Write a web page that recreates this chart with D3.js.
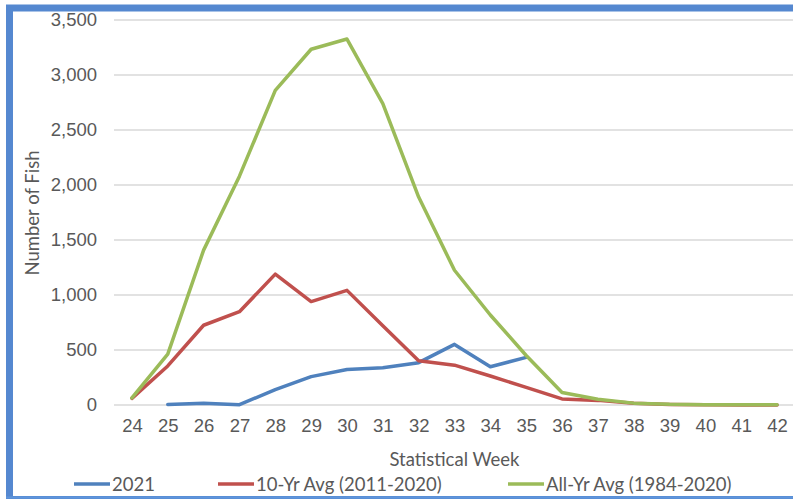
<!DOCTYPE html>
<html>
<head>
<meta charset="utf-8">
<script src="https://cdn.jsdelivr.net/npm/d3@7"></script>
<style>
  body { margin: 0; background: #fff; }
  svg { display: block; font-family: Lato, 'Noto Sans', sans-serif; }
</style>
</head>
<body>
<svg width="793" height="499"></svg>
<script>
const weeks = [24, 25, 26, 27, 28, 29, 30, 31, 32, 33, 34, 35, 36, 37, 38, 39, 40, 41, 42]
const yr2021 = [null, 5, 15, 3, 140, 258, 322, 338, 385, 551, 348, 433, null, null, null, null, null, null, null]
const tenYrAvg = [60, 355, 725, 848, 1190, 940, 1042, 720, 403, 362, 264, 160, 55, 42, 15, 5, 2, 1, 1]
const allYrAvg = [64, 462, 1408, 2080, 2860, 3234, 3327, 2740, 1890, 1225, 818, 450, 113, 52, 17, 6, 3, 2, 2]
const yTicks = [0, 500, 1000, 1500, 2000, 2500, 3000, 3500]

const series = [
  { name: '2021', values: yr2021, color: '#4f81bd' },
  { name: '10-Yr Avg (2011-2020)', values: tenYrAvg, color: '#c0504d' },
  { name: 'All-Yr Avg (1984-2020)', values: allYrAvg, color: '#9bbb59' }
]

const margin = { top: 20, right: -2, bottom: 94, left: 114 }
const width = 793
const height = 499
const fontSize = '18.5px'

const svg = d3.select('svg')

// frame
svg.append('rect')
  .attr('x', 9.5).attr('y', 8)
  .attr('width', 820).attr('height', 489)
  .attr('fill', 'none')
  .attr('stroke', '#5588d0')
  .attr('stroke-width', 7)
svg.append('line')
  .attr('x1', 6).attr('x2', 800)
  .attr('y1', 497.5).attr('y2', 497.5)
  .attr('stroke', '#5f95dc')
  .attr('stroke-width', 2)
svg.append('rect')
  .attr('x', 13).attr('y', 12)
  .attr('width', 800).attr('height', 484)
  .attr('fill', '#fff')

const xScale = d3.scalePoint()
  .domain(weeks)
  .range([margin.left, width - margin.right])
  .padding(0.5)

const yScale = d3.scaleLinear()
  .domain([0, 3500])
  .range([height - margin.bottom, margin.top])

// gridlines
svg.append('g')
  .selectAll('line')
  .data(yTicks)
  .enter().append('line')
  .attr('x1', margin.left)
  .attr('x2', width - margin.right)
  .attr('y1', d => yScale(d))
  .attr('y2', d => yScale(d))
  .attr('stroke', '#d9d9d9')
  .attr('stroke-width', 1.5)

// y axis labels
const yAxis = d3.axisLeft(yScale)
  .tickValues(yTicks)
  .tickFormat(d3.format(','))
  .tickSize(0)
  .tickPadding(17)

svg.append('g')
  .attr('transform', `translate(${margin.left},0)`)
  .call(yAxis)
  .call(g => g.select('.domain').remove())
  .selectAll('text')
  .attr('fill', '#595959')
  .style('font-size', fontSize)

// x axis labels
const xAxis = d3.axisBottom(xScale)
  .tickSize(0)
  .tickPadding(14)

svg.append('g')
  .attr('transform', `translate(0,${yScale(0)})`)
  .call(xAxis)
  .call(g => g.select('.domain').remove())
  .selectAll('text')
  .attr('fill', '#595959')
  .style('font-size', fontSize)

// axis titles
svg.append('text')
  .attr('x', xScale(33))
  .attr('y', 466)
  .attr('text-anchor', 'middle')
  .attr('fill', '#595959')
  .style('font-size', fontSize)
  .text('Statistical Week')

svg.append('text')
  .attr('transform', 'translate(39,213) rotate(-90)')
  .attr('text-anchor', 'middle')
  .attr('fill', '#595959')
  .style('font-size', fontSize)
  .text('Number of Fish')

// lines
const line = d3.line()
  .defined(d => d.v !== null)
  .x(d => xScale(d.w))
  .y(d => yScale(d.v))

svg.append('g')
  .selectAll('path')
  .data(series)
  .enter().append('path')
  .attr('d', s => line(weeks.map((w, i) => ({ w: w, v: s.values[i] }))))
  .attr('fill', 'none')
  .attr('stroke', s => s.color)
  .attr('stroke-width', 3.5)
  .attr('stroke-linejoin', 'round')
  .attr('stroke-linecap', 'round')

// legend
const legendX = [74, 218, 508]
const legend = svg.append('g')
  .selectAll('g')
  .data(series)
  .enter().append('g')
  .attr('transform', (d, i) => `translate(${legendX[i]},484)`)

legend.append('line')
  .attr('x1', 0).attr('x2', 36)
  .attr('stroke', d => d.color)
  .attr('stroke-width', 3.5)

legend.append('text')
  .attr('x', 38)
  .attr('y', 7)
  .attr('fill', '#595959')
  .style('font-size', fontSize)
  .text(d => d.name)
</script>
</body>
</html>
